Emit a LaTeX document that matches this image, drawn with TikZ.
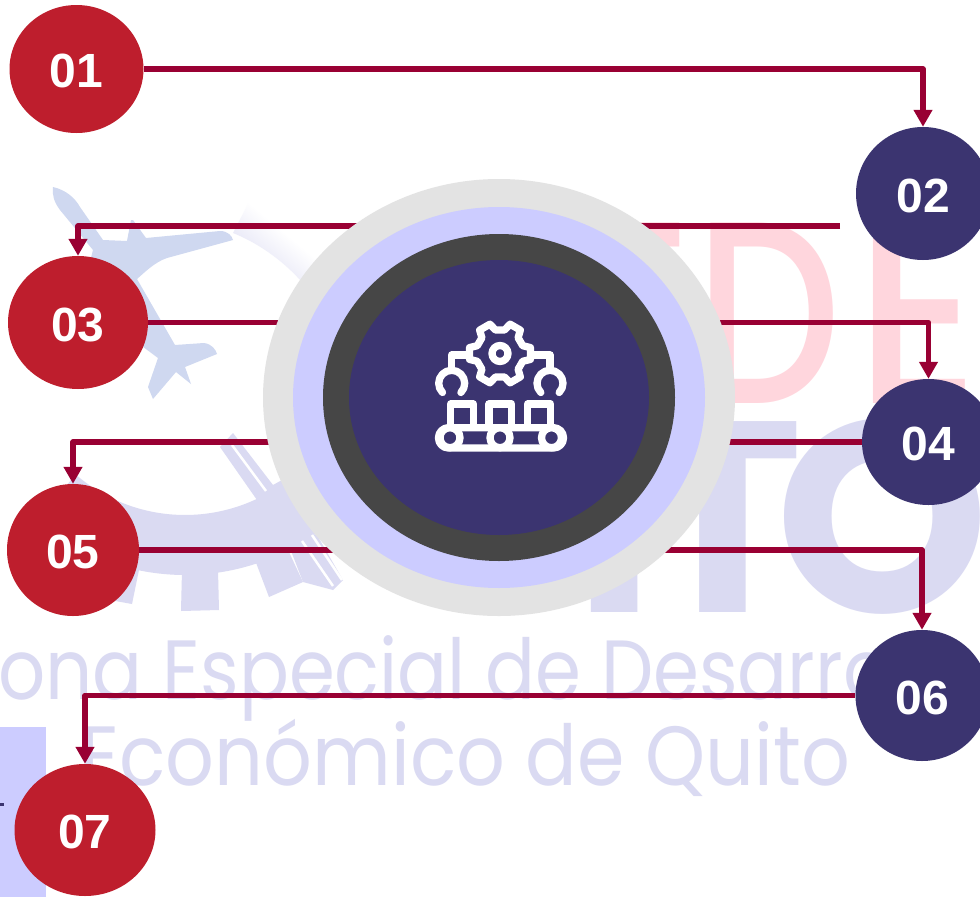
\documentclass[tikz,border=0pt]{standalone}
\usepackage{fontspec}
\setmainfont{Liberation Sans}
\newfontfamily\wm{Poppins}
\newfontfamily\wmm{Poppins Medium}
\usetikzlibrary{arrows.meta,shapes.geometric}
\definecolor{lnk}{HTML}{990033}
\definecolor{redc}{HTML}{BE1E2D}
\definecolor{navyc}{HTML}{3B3470}
\definecolor{grayc}{HTML}{E3E3E3}
\definecolor{peri}{HTML}{CCCCFF}
\definecolor{darkc}{HTML}{464646}
\definecolor{pinkw}{HTML}{FFD6DD}
\definecolor{lavw}{HTML}{DADAF2}
\definecolor{planec}{HTML}{CFD8F0}
\newcommand{\lbl}[1]{\raisebox{-1.5pt}[34pt][0pt]{#1}}
\newcommand{\squeeze}[2]{\scalebox{#1}[1]{#2}}
\tikzset{
  num/.style={ellipse,inner sep=0pt,text=white,font=\fontsize{48}{48}\selectfont\bfseries},
  redn/.style={num,fill=redc},
  navyn/.style={num,fill=navyc},
  ring/.style={ellipse,inner sep=0pt},
  link/.style={draw=lnk,line width=5.6pt,line join=round,-{Triangle[length=17pt,width=18pt]}},
  icon/.style={draw=white,line width=7.3pt,line join=round,line cap=round},
  wmpink/.style={inner sep=0pt,text=pinkw,font=\wmm\fontsize{260}{260}\selectfont},
  wmlav/.style={inner sep=0pt,text=lavw,font=\wm\fontsize{272}{272}\selectfont\bfseries},
  wmline/.style={inner sep=0pt,text=lavw,font=\wm\fontsize{84}{84}\selectfont}
}
\begin{document}
\begin{tikzpicture}[x=1pt,y=-1pt]
\path[use as bounding box] (0,0) rectangle (980,897);
\clip (0,0) rectangle (980,897);
\fill[white] (0,0) rectangle (980,897);
% watermark: plane
\fill[planec] (53,187) .. controls (66,190) and (75,198) .. (80,207)
  -- (103,240) -- (127,241) -- (131,220) -- (133,220) -- (146,238)
  -- (220,231) .. controls (228,231) and (232,236) .. (233,240)
  -- (167,258) .. controls (155,262) and (145,272) .. (137,279)
  -- (175,345) -- (204,343) .. controls (212,344) and (216,350) .. (217,354)
  -- (185,367) -- (191,384) -- (176,372) -- (153,399) -- (148,387)
  -- (158,358) -- (80,300) -- (93,250) -- (60,210) .. controls (54,202) and (52,195) .. (53,187) -- cycle;
% watermark: top swoosh
\shade[left color=white,right color=lavw,middle color=white,shading angle=-40]
  (233,233) .. controls (258,243) and (282,260) .. (300,280) -- (345,300) -- (345,228)
  .. controls (330,216) and (316,205) .. (300,198) -- (318,172) -- (250,200) -- cycle;
% watermark: gear
\draw[lavw,line width=60pt] (185,347) ++(229.5:198pt) arc[start angle=229.5,end angle=310,radius=198pt];
\fill[lavw] (182,570) -- (218,570) -- (219,610) -- (181,611) -- cycle;
\fill[lavw] (255,560) -- (269,597) -- (303,582) -- (288,550) -- cycle;
\fill[lavw] (110,565) -- (140,565) -- (132,604) -- (110,600) -- cycle;
\fill[lavw] (220,447) -- (233,433) -- (273,485) -- (300,470) -- (320,520) -- (257,500) -- cycle;
\draw[white,line width=2.5pt] (232,445) -- (266,491);
\fill[lavw] (283,530) -- (317,535) -- (343,580) -- (333,590) -- (303,582) -- cycle;
\draw[white,line width=2.5pt] (302,541) -- (333,586);
\draw[white,line width=2.5pt] (312,535) -- (342,580);
% watermark: lettering
\node[wmpink,anchor=base east] (wt) at (690,403) {T};
\node[wmpink,anchor=base west] (wd) at (695,403) {\squeeze{.79}{D}};
\node[wmpink,anchor=base west] (we) at (855,403) {\squeeze{.92}{E}};
\node[wmlav,anchor=base east] (wi) at (655,612) {I};
\node[wmlav,anchor=base] (wt2) at (723,612) {T};
\node[wmlav,anchor=base west] (wo) at (775,612) {O};
\node[wmline,anchor=base west] (wa) at (-2,699) {\squeeze{.88}{ona Especial de Desarro}};
\node[wmline,anchor=base west] (wb) at (80,785) {\squeeze{.91}{Económico de Quito}};
% bottom-left strip
\fill[peri] (0,727) rectangle (46,897);
\fill[navyc] (0,803) rectangle (4,806);
% nodes
\node[redn,minimum width=134pt,minimum height=128pt] (n1) at (76.5,69) {\lbl{01}};
\node[navyn,minimum width=134pt,minimum height=133pt] (n2) at (923,193.5) {\lbl{02}};
\node[redn,minimum width=140pt,minimum height=133pt] (n3) at (78,322.5) {\lbl{03}};
\node[navyn,minimum width=133pt,minimum height=126pt] (n4) at (928.5,442) {\lbl{04}};
\node[redn,minimum width=132pt,minimum height=132pt] (n5) at (73,550) {\lbl{05}};
\node[navyn,minimum width=133pt,minimum height=131pt] (n6) at (922,695.5) {\lbl{06}};
\node[redn,minimum width=141pt,minimum height=132pt] (n7) at (85,830) {\lbl{07}};
\coordinate (f2) at (840,226);
% connectors
\draw[link] (n1.east) -| (n2.north);
\draw[link] (f2) -| (n3.north);
\draw[link] (n3.east) -| (n4.north);
\draw[link] (n4.west) -| (n5.north);
\draw[link] (n5.east) -| (n6.north);
\draw[link] (n6.west) -| (n7.north);
% centre
\node[ring,fill=grayc,minimum width=472pt,minimum height=437pt] (c1) at (499,397.5) {};
\node[ring,fill=peri,minimum width=412pt,minimum height=381pt] (c2) at (499,397.5) {};
\node[ring,fill=darkc,minimum width=352pt,minimum height=327pt] (c3) at (499,397.5) {};
\node[ring,fill=navyc,minimum width=300pt,minimum height=275pt] (c4) at (499,397.5) {};
% icon
\begin{scope}[shift={(500,353.5)}]
\draw[icon] (-19:24pt)
  \foreach \a in {0,60,120,180,240,300}{ -- ({\a-19}:24pt) -- ({\a-11}:31pt) -- ({\a+11}:31pt) -- ({\a+19}:24pt) } -- cycle;
\draw[icon] (0,0) circle[radius=8pt];
\end{scope}
\draw[icon] (468,355) -- (451.7,355) -- (451.7,370);
\draw[icon] (532,355) -- (550,355) -- (550,370);
\draw[icon] (451.7,383.3) ++(-45:13pt) arc[start angle=-45,end angle=225,radius=13pt];
\draw[icon] (550,383.3) ++(-45:13pt) arc[start angle=-45,end angle=225,radius=13pt];
\draw[icon] (450.7,427) -- (450.7,404) -- (473.3,404) -- (473.3,427);
\draw[icon] (489,427) -- (489,404) -- (511.7,404) -- (511.7,427);
\draw[icon] (527.7,427) -- (527.7,404) -- (550.7,404) -- (550.7,427);
\draw[icon,rounded corners=10pt] (438.5,427.7) rectangle (563.5,448);
\foreach \x in {450,500,551.5} \draw[icon,fill=navyc] (\x,437.7) circle[radius=10pt];
\end{tikzpicture}
\end{document}
